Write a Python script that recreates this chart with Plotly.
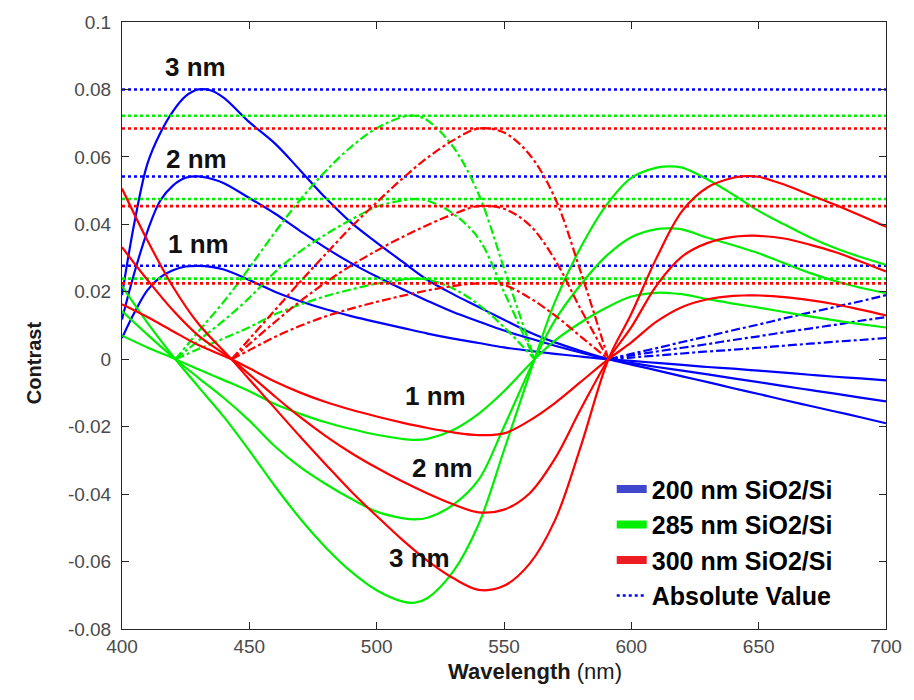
import plotly.graph_objects as go

# ---- wavelength grids (nm), one per substrate, including the zero crossings ----
wl_200 = [400, 405, 410, 415, 420, 425, 430, 435, 440, 450, 460, 470, 480, 490, 500,
          510, 520, 530, 540, 550, 560, 570, 580, 591, 600, 610, 620, 630, 640, 650,
          660, 670, 680, 690, 700]
wl_285 = [400, 410, 421, 430, 440, 450, 460, 470, 480, 490, 500, 510, 515, 520, 530,
          540, 550, 562, 570, 580, 590, 600, 610, 615, 620, 630, 640, 650, 660, 670,
          680, 690, 700]
wl_300 = [400, 410, 420, 430, 443, 450, 460, 470, 480, 490, 500, 510, 520, 530, 540,
          550, 560, 570, 580, 591, 600, 610, 620, 630, 640, 645, 650, 660, 670, 680,
          690, 700]

# ---- contrast, 200 nm SiO2/Si ----
c200_1nm = [0.0063, 0.0140, 0.0205, 0.0243, 0.0264, 0.0275, 0.0277, 0.0274, 0.0266,
            0.0235, 0.0200, 0.0172, 0.0148, 0.0128, 0.0110, 0.0093, 0.0076, 0.0061,
            0.0048, 0.0035, 0.0025, 0.0016, 0.0008, 0.0, -0.0005, -0.0011, -0.0017,
            -0.0023, -0.0028, -0.0034, -0.0040, -0.0046, -0.0052, -0.0057, -0.0063]
c200_2nm = [0.0118, 0.0260, 0.0380, 0.0470, 0.0515, 0.0538, 0.0542, 0.0535, 0.0522,
            0.0478, 0.0432, 0.0380, 0.0330, 0.0285, 0.0245, 0.0208, 0.0173, 0.0140,
            0.0112, 0.0085, 0.0062, 0.0040, 0.0020, 0.0, -0.0011, -0.0023, -0.0034,
            -0.0045, -0.0057, -0.0068, -0.0080, -0.0091, -0.0102, -0.0114, -0.0125]
c200_3nm = [0.0190, 0.0410, 0.0580, 0.0670, 0.0735, 0.0780, 0.0800, 0.0797, 0.0775,
            0.0703, 0.0640, 0.0560, 0.0478, 0.0405, 0.0346, 0.0290, 0.0235, 0.0193,
            0.0155, 0.0117, 0.0080, 0.0050, 0.0025, 0.0, -0.0016, -0.0033, -0.0051,
            -0.0068, -0.0086, -0.0103, -0.0121, -0.0138, -0.0155, -0.0172, -0.0190]

# ---- contrast, 285 nm SiO2/Si ----
c285_1nm = [0.0070, 0.0035, 0.0, -0.0030, -0.0062, -0.0095, -0.0133, -0.0162, -0.0187,
            -0.0207, -0.0224, -0.0236, -0.0239, -0.0236, -0.0210, -0.0162, -0.0095,
            0.0, 0.0055, 0.0108, 0.0152, 0.0186, 0.0197, 0.0196, 0.0193, 0.0178,
            0.0165, 0.0153, 0.0140, 0.0127, 0.0115, 0.0104, 0.0094]
c285_2nm = [0.0143, 0.0073, 0.0, -0.0055, -0.0115, -0.0182, -0.0258, -0.0320, -0.0370,
            -0.0414, -0.0452, -0.0471, -0.0475, -0.0470, -0.0432, -0.0358, -0.0200,
            0.0, 0.0115, 0.0220, 0.0305, 0.0362, 0.0386, 0.0388, 0.0385, 0.0360,
            0.0338, 0.0314, 0.0285, 0.0256, 0.0232, 0.0212, 0.0196]
c285_3nm = [0.0217, 0.0108, 0.0, -0.0082, -0.0171, -0.0271, -0.0376, -0.0473, -0.0558,
            -0.0630, -0.0685, -0.0718, -0.0722, -0.0708, -0.0630, -0.0490, -0.0270,
            0.0, 0.0170, 0.0330, 0.0455, 0.0538, 0.0568, 0.0572, 0.0568, 0.0533,
            0.0488, 0.0440, 0.0400, 0.0362, 0.0330, 0.0303, 0.0280]

# ---- contrast, 300 nm SiO2/Si ----
c300_1nm = [0.0163, 0.0125, 0.0083, 0.0042, 0.0, -0.0027, -0.0066, -0.0099, -0.0127,
            -0.0150, -0.0170, -0.0188, -0.0204, -0.0217, -0.0225, -0.0220, -0.0182,
            -0.0130, -0.0068, 0.0, 0.0050, 0.0112, 0.0155, 0.0178, 0.0188, 0.0189,
            0.0189, 0.0184, 0.0175, 0.0163, 0.0147, 0.0130]
c300_2nm = [0.0332, 0.0235, 0.0145, 0.0070, 0.0, -0.0045, -0.0110, -0.0172, -0.0228,
            -0.0278, -0.0322, -0.0362, -0.0398, -0.0430, -0.0454, -0.0446, -0.0398,
            -0.0295, -0.0150, 0.0, 0.0095, 0.0220, 0.0305, 0.0345, 0.0363, 0.0366,
            0.0366, 0.0358, 0.0340, 0.0318, 0.0290, 0.0260]
c300_3nm = [0.0506, 0.0352, 0.0215, 0.0105, 0.0, -0.0060, -0.0145, -0.0230, -0.0312,
            -0.0392, -0.0465, -0.0535, -0.0598, -0.0649, -0.0684, -0.0672, -0.0607,
            -0.0478, -0.0262, 0.0, 0.0135, 0.0302, 0.0440, 0.0510, 0.0538, 0.0543,
            0.0541, 0.0518, 0.0488, 0.0458, 0.0426, 0.0393]

substrates = [
    ("200 nm SiO2/Si", "#0000ff", "#3f48cc", wl_200, [c200_1nm, c200_2nm, c200_3nm]),
    ("285 nm SiO2/Si", "#00ee00", "#00ee00", wl_285, [c285_1nm, c285_2nm, c285_3nm]),
    ("300 nm SiO2/Si", "#ff0000", "#ed1c24", wl_300, [c300_1nm, c300_2nm, c300_3nm]),
]

x_ticks = [400, 450, 500, 550, 600, 650, 700]
y_ticks = [-0.08, -0.06, -0.04, -0.02, 0, 0.02, 0.04, 0.06, 0.08, 0.1]
y_tick_text = ["-0.08", "-0.06", "-0.04", "-0.02", "0", "0.02", "0.04", "0.06", "0.08", "0.1"]

FONT = "Liberation Sans, Arial, sans-serif"

fig = go.Figure()

for name, color, legend_color, wl, curves in substrates:
    for c in curves:
        # signed contrast
        fig.add_trace(go.Scatter(x=wl, y=c, mode="lines", showlegend=False,
                                 line=dict(color=color, width=2.2, shape="spline")))
        # absolute value of the negative part
        neg = [-v if v <= 0 else None for v in c]
        fig.add_trace(go.Scatter(x=wl, y=neg, mode="lines", showlegend=False,
                                 connectgaps=False,
                                 line=dict(color=color, width=2.2, dash="dashdot",
                                           shape="spline")))
        # level of the largest absolute contrast
        peak = max(abs(v) for v in c)
        fig.add_trace(go.Scatter(x=[wl[0], wl[-1]], y=[peak, peak], mode="lines",
                                 showlegend=False,
                                 line=dict(color=color, width=2.6, dash="dot")))

# legend entries
for name, color, legend_color, wl, curves in substrates:
    fig.add_trace(go.Scatter(x=[None], y=[None], mode="lines", name=name,
                             line=dict(color=legend_color, width=8)))
fig.add_trace(go.Scatter(x=[None], y=[None], mode="lines", name="Absolute Value",
                         line=dict(color="#0000ff", width=2.6, dash="dot")))

labels = [
    ("3 nm", 428.8, 0.0868), ("2 nm", 429.2, 0.0594), ("1 nm", 430.0, 0.0341),
    ("1 nm", 523.0, -0.0109), ("2 nm", 525.7, -0.0324), ("3 nm", 517.0, -0.0588),
]
for text, lx, ly in labels:
    fig.add_annotation(x=lx, y=ly, text=f"<b>{text}</b>", showarrow=False,
                       font=dict(family=FONT, size=26, color="#111111"))

fig.add_annotation(xref="paper", yref="paper", x=-0.1323, y=0.4395,
                   text="<b>Contrast</b>", textangle=-90, showarrow=False,
                   font=dict(family=FONT, size=20, color="#1a1a1a"))
fig.add_annotation(xref="paper", yref="paper", x=0.541, y=-0.094,
                   text="<b>Wavelength</b> (nm)", showarrow=False,
                   font=dict(family=FONT, size=22, color="#1a1a1a"))

axis_common = dict(showline=True, linecolor="#262626", linewidth=1, mirror="ticks",
                   ticks="inside", ticklen=7, tickcolor="#262626", tickwidth=1,
                   showgrid=False, zeroline=False,
                   tickfont=dict(family=FONT, size=19, color="#4a4a4a"))

fig.update_layout(
    width=914, height=700,
    margin=dict(l=122, r=21, t=17, b=71),
    paper_bgcolor="white", plot_bgcolor="white",
    xaxis=dict(range=[400, 700], tickvals=x_ticks, **axis_common),
    yaxis=dict(range=[-0.08, 0.1], tickvals=y_ticks, ticktext=y_tick_text,
               ticklabelstandoff=6, **axis_common),
    legend=dict(x=0.641, y=0.268, xanchor="left", yanchor="top",
                bgcolor="rgba(0,0,0,0)", borderwidth=0, tracegroupgap=0,
                font=dict(family=FONT, size=25, color="#000000", weight="bold")),
)

fig.write_html("out.html")
